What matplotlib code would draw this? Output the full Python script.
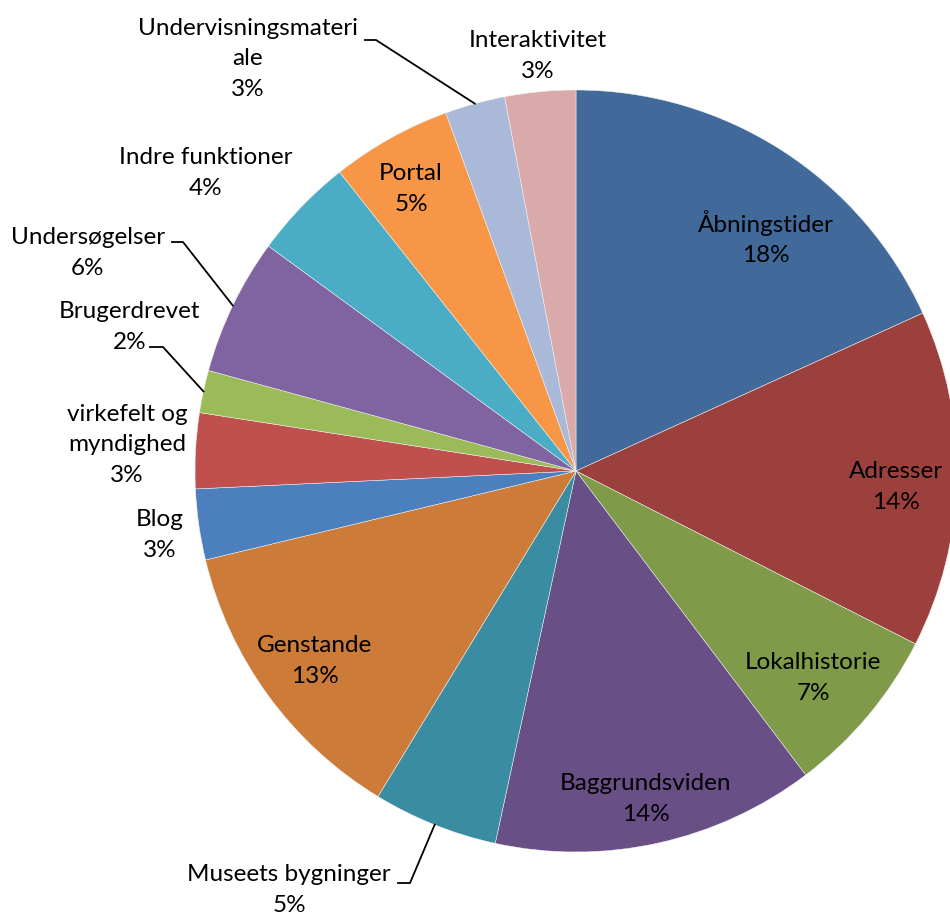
import numpy as np
import matplotlib
matplotlib.use("Agg")
import matplotlib.pyplot as plt

# Share of answers per category (percent), clockwise from 12 o'clock
categories = [
    "Åbningstider", "Adresser", "Lokalhistorie", "Baggrundsviden",
    "Museets bygninger", "Genstande", "Blog", "virkefelt og myndighed",
    "Brugerdrevet", "Undersøgelser", "Indre funktioner", "Portal",
    "Undervisningsmateriale", "Interaktivitet",
]
values = [18.2, 14.3, 7.2, 13.7, 5.3, 12.55, 3.0, 3.2, 1.8, 5.8, 4.3, 5.1, 2.55, 3.0]

# How each category name is wrapped in its label
label_names = [
    "Åbningstider", "Adresser", "Lokalhistorie", "Baggrundsviden",
    "Museets bygninger", "Genstande", "Blog", "virkefelt og\nmyndighed",
    "Brugerdrevet", "Undersøgelser", "Indre funktioner", "Portal",
    "Undervisningsmateri\nale", "Interaktivitet",
]

colors = [
    "#416A9B", "#9C403E", "#7F9A48", "#684F86", "#3A8CA3", "#CC7B38",
    "#4C7FBD", "#C0504D", "#9BBB59", "#8064A2", "#4BACC6", "#F79646",
    "#AAB9D7", "#D9AAA9",
]

W, H, DPI = 950, 917, 100
CX, CY, R = 576, 471, 381  # pie centre and radius in pixels


def px(x, y):
    """Pixel position (from top-left) to data coordinates of the pie axes."""
    return (x - CX) / R, (CY - y) / R


# Label block centres (pixels)
label_pos = [
    (766, 238), (896, 487), (813, 678), (646, 799), (289, 890), (315, 661),
    (160, 535), (127, 445), (130, 327), (88, 253), (206, 173), (411, 189),
    (248, 59), (538, 56),
]
# Leader lines: category index -> (start, elbow) pixel points next to the label
leaders = {
    4: ((398, 883), (410, 883)),
    8: ((150, 347), (163, 347)),
    9: ((172, 242), (183, 242)),
    12: ((365, 40), (376, 40)),
}

plt.rcParams["font.family"] = ["Lato", "DejaVu Sans"]

fig = plt.figure(figsize=(W / DPI, H / DPI), dpi=DPI)
ax = fig.add_axes([0, 0, 1, 1])
x0, y1 = px(0, 0)
x1, y0 = px(W, H)

wedges, _ = ax.pie(
    values, colors=colors, startangle=90, counterclock=False, radius=1,
    center=(0, 0), frame=True,
    wedgeprops=dict(edgecolor="#f4f4f4", linewidth=0.35),
)
ax.set_xlim(x0, x1)
ax.set_ylim(y0, y1)
ax.set_aspect("auto")
ax.axis("off")

total = sum(values)
for i, (name, v) in enumerate(zip(label_names, values)):
    pct = 100 * v / total
    lx, ly = px(*label_pos[i])
    ax.text(lx, ly, f"{name}\n{pct:.0f}%", ha="center", va="center",
            multialignment="center", fontsize=17.5, color="black",
            linespacing=1.55)

cum = np.cumsum([0] + values) / total
for i, (p_start, p_elbow) in leaders.items():
    mid = (cum[i] + cum[i + 1]) / 2 * 2 * np.pi
    ex, ey = np.sin(mid), np.cos(mid)
    sx, sy = px(*p_start)
    bx, by = px(*p_elbow)
    ax.plot([sx, bx, ex], [sy, by, ey], color="black", lw=1.3,
            solid_joinstyle="miter")

fig.savefig("out.png", dpi=DPI, facecolor="white")
